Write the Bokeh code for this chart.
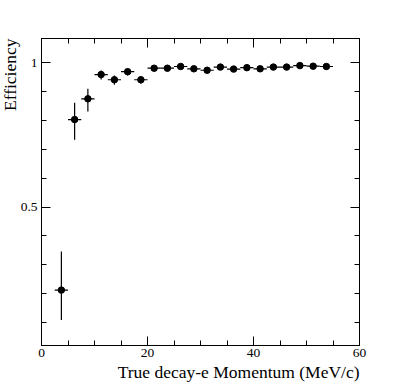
from bokeh.plotting import figure
from bokeh.models import FixedTicker, LinearAxis, Range1d, Title
from bokeh.embed import file_html
from bokeh.resources import INLINE

# ---- data ----
momentum = [3.75, 6.25, 8.75, 11.25, 13.75, 16.25, 18.75, 21.25, 23.75, 26.25,
            28.75, 31.25, 33.75, 36.25, 38.75, 41.25, 43.75, 46.25, 48.75, 51.25, 53.75]
efficiency = [0.212, 0.803, 0.875, 0.959, 0.941, 0.969, 0.941, 0.981, 0.981, 0.987,
              0.979, 0.974, 0.985, 0.978, 0.983, 0.979, 0.985, 0.985, 0.990, 0.988, 0.987]
err_up = [0.134, 0.058, 0.035, 0.014, 0.015, 0.010, 0.012, 0.005, 0.005, 0.005,
          0.005, 0.005, 0.005, 0.005, 0.005, 0.005, 0.005, 0.004, 0.004, 0.004, 0.004]
err_down = [0.104, 0.070, 0.044, 0.017, 0.017, 0.013, 0.014, 0.006, 0.006, 0.006,
            0.006, 0.006, 0.006, 0.006, 0.006, 0.006, 0.006, 0.005, 0.005, 0.005, 0.005]
bin_half_width = 1.25

x_major_ticks = [0, 20, 40, 60]
x_minor_ticks = list(range(0, 61, 5))
y_major_ticks = [0.5, 1.0]
y_major_labels = ["0.5", "1"]
y_minor_ticks = [0.1, 0.2, 0.3, 0.4, 0.5, 0.6, 0.7, 0.8, 0.9, 1.0]

x_title = "True decay-e Momentum (MeV/c)"
y_title = "Efficiency"

X_START, X_END = 0, 60
Y_START, Y_END = 0.02, 1.084

FONT = "Liberation Serif"

p = figure(width=395, height=384, output_backend="svg", toolbar_location=None,
           x_range=Range1d(X_START, X_END), y_range=Range1d(Y_START, Y_END),
           min_border_left=40, min_border_right=36, min_border_top=38, min_border_bottom=39)
p.background_fill_color = "white"
p.border_fill_color = "white"
p.grid.visible = False
p.outline_line_color = "black"
p.outline_line_width = 1


def style(ax, labels=True):
    ax.axis_line_color = "black"
    ax.major_tick_line_color = "black"
    ax.minor_tick_line_color = "black"
    ax.major_tick_in = 9
    ax.major_tick_out = 0
    ax.minor_tick_in = 5
    ax.minor_tick_out = 0
    if labels:
        ax.major_label_text_font = FONT
        ax.major_label_text_font_size = "13.5px"
        ax.major_label_text_color = "black"
    else:
        ax.major_label_text_font_size = "0px"
        ax.major_label_standoff = 0


xa = p.xaxis[0]
xa.ticker = FixedTicker(ticks=x_major_ticks, minor_ticks=x_minor_ticks)
style(xa)
xa.major_label_standoff = 3

ya = p.yaxis[0]
ya.ticker = FixedTicker(ticks=y_major_ticks, minor_ticks=y_minor_ticks)
style(ya)
ya.major_label_overrides = {t: s for t, s in zip(y_major_ticks, y_major_labels)}
ya.major_label_standoff = 4

top = LinearAxis(ticker=FixedTicker(ticks=x_major_ticks, minor_ticks=x_minor_ticks))
style(top, labels=False)
top.major_label_overrides = {t: "" for t in x_major_ticks}
p.add_layout(top, "above")

right = LinearAxis(ticker=FixedTicker(ticks=y_major_ticks, minor_ticks=y_minor_ticks))
style(right, labels=False)
right.major_label_overrides = {t: "" for t in y_major_ticks}
p.add_layout(right, "right")

# axis titles (ROOT style: aligned to the axis ends)
p.add_layout(Title(text=x_title, align="right", standoff=0, offset=0,
                   text_font=FONT, text_font_size="17.5px", text_font_style="normal",
                   text_color="black"), "below")
p.add_layout(Title(text=y_title, align="right", standoff=-5, offset=0,
                   text_font=FONT, text_font_size="17.5px", text_font_style="normal",
                   text_color="black"), "left")

# error bars
x_lo = [m - bin_half_width for m in momentum]
x_hi = [m + bin_half_width for m in momentum]
y_lo = [e - d for e, d in zip(efficiency, err_down)]
y_hi = [e + u for e, u in zip(efficiency, err_up)]
p.segment(x0=x_lo, y0=efficiency, x1=x_hi, y1=efficiency, line_color="black", line_width=1.2)
p.segment(x0=momentum, y0=y_lo, x1=momentum, y1=y_hi, line_color="black", line_width=1.2)
p.scatter(x=momentum, y=efficiency, size=6.5, fill_color="black", line_color="black")

open("out.html", "w").write(file_html(p, INLINE))
